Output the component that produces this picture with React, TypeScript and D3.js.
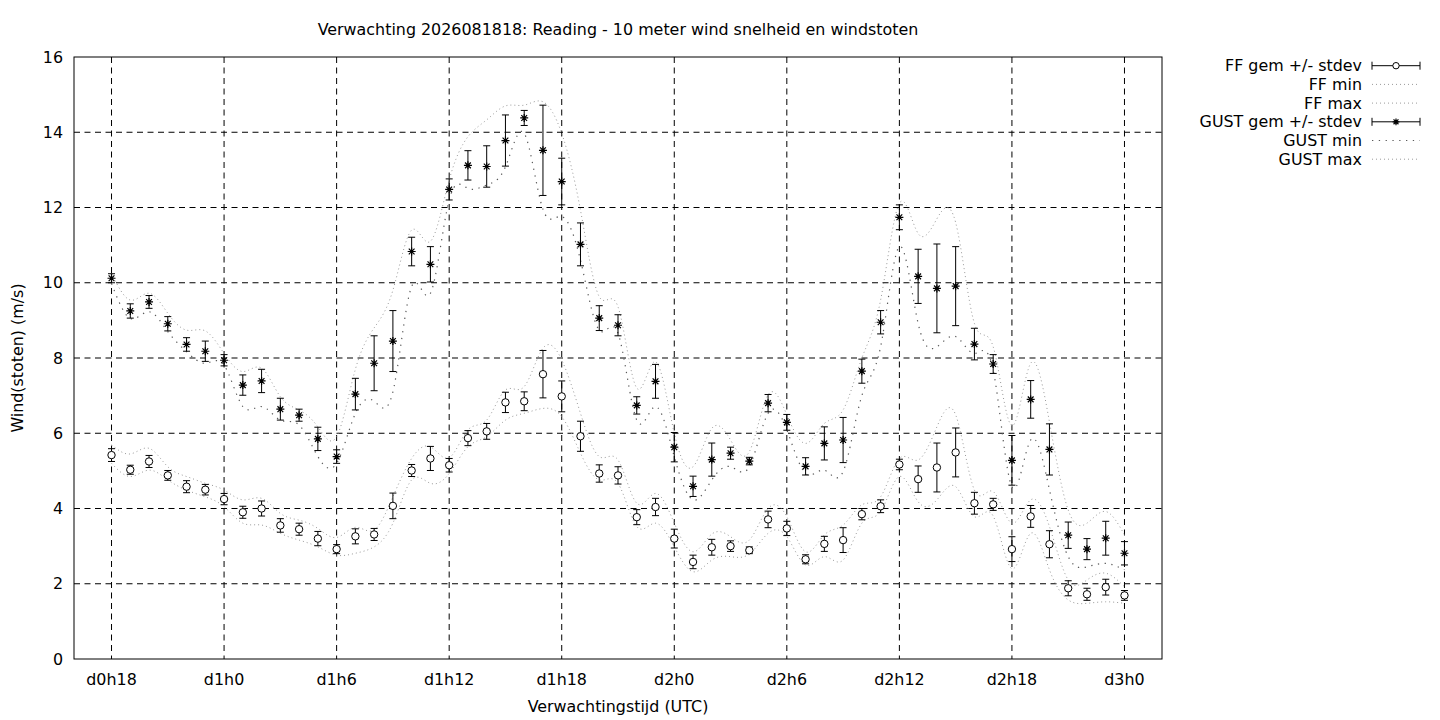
import React from "react";
import * as d3 from "d3";

const hours: number[] = d3.range(18, 73);
const tickHours = [18, 24, 30, 36, 42, 48, 54, 60, 66, 72];
const tickLabels = ["d0h18", "d1h0", "d1h6", "d1h12", "d1h18", "d2h0", "d2h6", "d2h12", "d2h18", "d3h0"];
const yTicks = [0, 2, 4, 6, 8, 10, 12, 14, 16];

const ffMean = [5.42, 5.03, 5.25, 4.88, 4.58, 4.5, 4.25, 3.9, 4.0, 3.55, 3.45, 3.2, 2.92, 3.26, 3.31, 4.07, 5.01, 5.33, 5.15, 5.87, 6.05, 6.82, 6.85, 7.57, 6.98, 5.92, 4.93, 4.88, 3.77, 4.04, 3.2, 2.58, 2.97, 3.0, 2.89, 3.71, 3.47, 2.65, 3.06, 3.16, 3.85, 4.06, 5.17, 4.78, 5.09, 5.49, 4.14, 4.11, 2.92, 3.79, 3.05, 1.88, 1.72, 1.91, 1.69];
const ffSd = [0.17, 0.12, 0.16, 0.13, 0.16, 0.14, 0.15, 0.16, 0.2, 0.18, 0.16, 0.19, 0.12, 0.2, 0.16, 0.34, 0.16, 0.32, 0.18, 0.2, 0.21, 0.27, 0.25, 0.63, 0.41, 0.4, 0.23, 0.23, 0.2, 0.23, 0.25, 0.18, 0.21, 0.14, 0.09, 0.22, 0.19, 0.12, 0.2, 0.33, 0.15, 0.17, 0.14, 0.35, 0.65, 0.65, 0.29, 0.16, 0.33, 0.29, 0.36, 0.2, 0.16, 0.21, 0.13];
const ffMin = [5.2, 4.85, 5.02, 4.76, 4.49, 4.31, 4.05, 3.61, 3.56, 3.34, 3.16, 2.98, 2.76, 2.81, 2.98, 3.61, 4.76, 4.67, 4.93, 5.64, 5.91, 6.35, 6.53, 6.66, 6.44, 5.47, 4.76, 4.67, 3.52, 3.61, 2.98, 2.32, 2.63, 2.72, 2.79, 3.34, 3.25, 2.5, 2.72, 2.63, 3.61, 3.92, 4.85, 4.18, 4.23, 4.58, 3.78, 3.8, 2.4, 3.34, 2.37, 1.57, 1.48, 1.52, 1.48];
const ffMax = [5.69, 5.45, 5.6, 5.11, 4.85, 4.67, 4.49, 4.23, 4.27, 3.87, 3.69, 3.47, 3.23, 3.5, 3.43, 4.31, 5.33, 5.64, 5.35, 6.09, 6.35, 7.15, 7.24, 8.26, 7.95, 6.53, 5.38, 5.29, 4.14, 4.4, 3.61, 2.85, 3.32, 3.25, 3.16, 4.0, 3.78, 2.85, 3.3, 3.56, 4.1, 4.31, 5.33, 5.29, 6.17, 6.49, 4.49, 4.45, 3.61, 4.23, 3.52, 2.1, 2.1, 2.28, 1.92];

const gustMean = [10.12, 9.25, 9.49, 8.91, 8.36, 8.18, 7.94, 7.28, 7.39, 6.64, 6.48, 5.85, 5.38, 7.04, 7.86, 8.45, 10.83, 10.49, 12.48, 13.12, 13.09, 13.78, 14.38, 13.52, 12.69, 11.02, 9.06, 8.87, 6.74, 7.38, 5.63, 4.59, 5.3, 5.47, 5.26, 6.8, 6.29, 5.12, 5.73, 5.82, 7.65, 8.95, 11.74, 10.17, 9.85, 9.91, 8.37, 7.84, 5.28, 6.9, 5.57, 3.29, 2.92, 3.21, 2.81];
const gustSd = [0.12, 0.19, 0.17, 0.19, 0.18, 0.27, 0.15, 0.27, 0.31, 0.29, 0.16, 0.31, 0.18, 0.42, 0.73, 0.81, 0.38, 0.47, 0.28, 0.39, 0.55, 0.68, 0.2, 1.2, 0.62, 0.57, 0.33, 0.28, 0.23, 0.45, 0.39, 0.27, 0.44, 0.16, 0.1, 0.23, 0.21, 0.23, 0.44, 0.6, 0.32, 0.31, 0.33, 0.72, 1.18, 1.05, 0.42, 0.25, 0.66, 0.5, 0.68, 0.35, 0.28, 0.45, 0.31];
const gustMin = [9.98, 9.05, 9.23, 8.7, 8.17, 7.86, 7.81, 6.71, 6.71, 6.35, 6.22, 5.38, 5.2, 6.53, 6.85, 7.1, 9.9, 9.72, 12.2, 12.51, 12.6, 13.08, 13.97, 11.95, 11.76, 10.6, 8.74, 8.66, 6.35, 6.71, 5.38, 4.23, 4.76, 5.11, 5.11, 6.53, 6.09, 4.93, 5.02, 4.98, 7.0, 8.3, 10.96, 8.92, 8.3, 8.57, 8.12, 7.68, 4.58, 5.82, 4.5, 2.72, 2.45, 2.54, 2.37];
const gustMax = [10.25, 9.54, 9.72, 9.19, 8.74, 8.72, 8.12, 7.64, 7.73, 6.97, 6.62, 6.17, 5.91, 7.7, 8.8, 9.8, 11.4, 11.1, 12.73, 13.88, 14.33, 14.7, 14.72, 14.81, 13.97, 11.93, 9.63, 9.36, 7.2, 7.9, 6.0, 5.11, 6.13, 5.82, 5.51, 7.02, 6.49, 5.73, 6.26, 6.62, 8.0, 9.54, 12.11, 11.31, 11.7, 11.6, 8.92, 8.3, 6.2, 7.86, 6.3, 3.96, 3.61, 3.92, 3.3];

const legendLabels = ["FF gem +/- stdev", "FF min", "FF max", "GUST gem +/- stdev", "GUST min", "GUST max"];

const L = 74, R = 1162, T = 57, B = 659;
const FONT = "'DejaVu Sans', sans-serif";
const FS = 15.9;
const LIGHT = { stroke: "#9a9a9a", dash: "1,3" };
const DARK = { stroke: "#5a5a5a", dash: "1.3,5.5" };

function Star({ x, y, s = 4 }: { x: number; y: number; s?: number }) {
  const k = s * 0.72;
  const d = `M${x - s},${y}L${x + s},${y}M${x},${y - s}L${x},${y + s}M${x - k},${y - k}L${x + k},${y + k}M${x - k},${y + k}L${x + k},${y - k}`;
  return <path d={d} stroke="#000" strokeWidth={1.2} fill="none" />;
}

export default function App() {
  const x = d3.scaleLinear().domain([16, 74]).range([L, R]);
  const y = d3.scaleLinear().domain([0, 16]).range([B, T]);
  const line = (vals: number[]) =>
    d3.line<number>().x((_, i) => x(hours[i])).y((v) => y(v)).curve(d3.curveNatural)(vals) || "";

  const cap = 3.5;
  const errBars = (mean: number[], sd: number[]) =>
    mean.map((m, i) => {
      const cx = x(hours[i]);
      const y1 = y(m - sd[i]);
      const y2 = y(m + sd[i]);
      return (
        <path key={i} d={`M${cx},${y1}L${cx},${y2}M${cx - cap},${y1}L${cx + cap},${y1}M${cx - cap},${y2}L${cx + cap},${y2}`} stroke="#000" strokeWidth={1} fill="none" />
      );
    });

  const legendY = (i: number) => 65.7 + i * 18.7;
  const lx1 = 1372, lx2 = 1420;

  return (
    <svg width={1440} height={720} style={{ position: "absolute", left: 0, top: 0, background: "#fff" }} fontFamily={FONT}>
      <rect x={0} y={0} width={1440} height={720} fill="#fff" />
      {yTicks.filter((t) => t > 0 && t < 16).map((t) => (
        <line key={"gy" + t} x1={L} x2={R} y1={y(t)} y2={y(t)} stroke="#000" strokeWidth={1} strokeDasharray="6,4.5" />
      ))}
      {tickHours.map((h) => (
        <line key={"gx" + h} x1={x(h)} x2={x(h)} y1={T} y2={B} stroke="#000" strokeWidth={1} strokeDasharray="6,4.5" />
      ))}
      <path d={line(ffMin)} fill="none" stroke={LIGHT.stroke} strokeWidth={1} strokeDasharray={LIGHT.dash} />
      <path d={line(ffMax)} fill="none" stroke={LIGHT.stroke} strokeWidth={1} strokeDasharray={LIGHT.dash} />
      <path d={line(gustMin)} fill="none" stroke={DARK.stroke} strokeWidth={1.2} strokeDasharray={DARK.dash} />
      <path d={line(gustMax)} fill="none" stroke={LIGHT.stroke} strokeWidth={1} strokeDasharray={LIGHT.dash} />
      {errBars(ffMean, ffSd)}
      {errBars(gustMean, gustSd)}
      {ffMean.map((m, i) => (
        <circle key={"c" + i} cx={x(hours[i])} cy={y(m)} r={3.7} fill="#fff" stroke="#000" strokeWidth={1} />
      ))}
      {gustMean.map((m, i) => (
        <Star key={"s" + i} x={x(hours[i])} y={y(m)} />
      ))}
      <rect x={L} y={T} width={R - L} height={B - T} fill="none" stroke="#000" strokeWidth={1} />
      {yTicks.map((t) => (
        <text key={"ty" + t} x={63} y={y(t) + 5.7} textAnchor="end" fontSize={FS} fill="#000">{t}</text>
      ))}
      {tickHours.map((h, i) => (
        <text key={"tx" + h} x={x(h)} y={685} textAnchor="middle" fontSize={FS} fill="#000">{tickLabels[i]}</text>
      ))}
      <text x={618} y={34.5} textAnchor="middle" fontSize={FS} fill="#000">Verwachting 2026081818: Reading - 10 meter wind snelheid en windstoten</text>
      <text x={618} y={712} textAnchor="middle" fontSize={FS} fill="#000">Verwachtingstijd (UTC)</text>
      <text transform={`translate(23,358) rotate(-90)`} textAnchor="middle" fontSize={FS} fill="#000">Wind(stoten) (m/s)</text>
      {legendLabels.map((lab, i) => (
        <text key={"lg" + i} x={1362} y={legendY(i) + 5.5} textAnchor="end" fontSize={FS} fill="#000">{lab}</text>
      ))}
      {[0, 3].map((i) => {
        const ly = legendY(i);
        return (
          <g key={"le" + i}>
            <path d={`M${lx1},${ly}L${lx2},${ly}M${lx1},${ly - 4}L${lx1},${ly + 4}M${lx2},${ly - 4}L${lx2},${ly + 4}`} stroke="#000" strokeWidth={1} fill="none" />
            {i === 0 ? <circle cx={1396} cy={ly} r={3.2} fill="#fff" stroke="#000" strokeWidth={1} /> : <Star x={1396} y={ly} s={3.4} />}
          </g>
        );
      })}
      <line x1={lx1} x2={lx2} y1={legendY(1)} y2={legendY(1)} stroke={LIGHT.stroke} strokeDasharray={LIGHT.dash} />
      <line x1={lx1} x2={lx2} y1={legendY(2)} y2={legendY(2)} stroke={LIGHT.stroke} strokeDasharray={LIGHT.dash} />
      <line x1={lx1} x2={lx2} y1={legendY(4)} y2={legendY(4)} stroke={DARK.stroke} strokeWidth={1.2} strokeDasharray={DARK.dash} />
      <line x1={lx1} x2={lx2} y1={legendY(5)} y2={legendY(5)} stroke={LIGHT.stroke} strokeDasharray={LIGHT.dash} />
    </svg>
  );
}
